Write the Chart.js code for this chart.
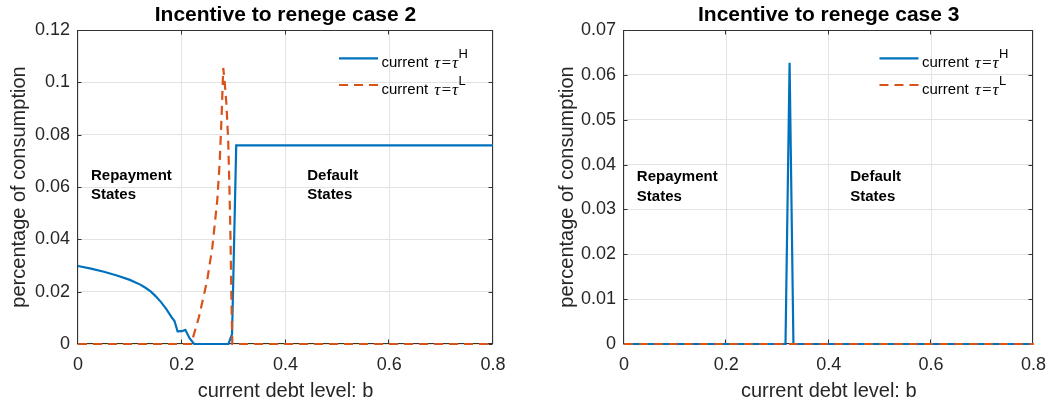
<!DOCTYPE html>
<html>
<head>
<meta charset="utf-8">
<script src="https://cdn.jsdelivr.net/npm/chart.js@4/dist/chart.umd.min.js"></script>
<style>
  html, body { margin: 0; padding: 0; background: #fff; }
  #wrap { position: relative; width: 1056px; height: 407px; }
  canvas { position: absolute; top: 0; }
</style>
</head>
<body>
<div id="wrap">
  <canvas id="case2" width="528" height="407" style="left:0"></canvas>
  <canvas id="case3" width="528" height="407" style="left:528px"></canvas>
</div>
<script>
// tick values
const debtTicks = [0, 0.2, 0.4, 0.6, 0.8];
const case2Ticks = [0, 0.02, 0.04, 0.06, 0.08, 0.1, 0.12];
const case3Ticks = [0, 0.01, 0.02, 0.03, 0.04, 0.05, 0.06, 0.07];

// case 2, current tau = tau^H
const case2HighB   = [0, 0.025, 0.05, 0.075, 0.1, 0.12, 0.13, 0.14, 0.15, 0.16, 0.17, 0.18, 0.186, 0.192, 0.2, 0.207, 0.215, 0.224, 0.29, 0.297, 0.305, 0.8];
const case2HighVal = [0.0298, 0.0288, 0.0276, 0.0262, 0.0245, 0.0227, 0.0215, 0.0201, 0.0182, 0.016, 0.0134, 0.0104, 0.0088, 0.0048, 0.0049, 0.0054, 0.0022, 0, 0, 0.0038, 0.0759, 0.0759];
// case 2, current tau = tau^L
const case2LowB   = [0, 0.218, 0.233, 0.249, 0.259, 0.2685, 0.273, 0.277, 0.28, 0.283, 0.286, 0.2895, 0.292, 0.294, 0.296, 0.2975, 0.8];
const case2LowVal = [0, 0, 0.0102, 0.0243, 0.037, 0.055, 0.069, 0.088, 0.1055, 0.0995, 0.092, 0.078, 0.059, 0.04, 0.014, 0, 0];

// case 3
const case3HighB   = [0, 0.3155, 0.3235, 0.331, 0.8];
const case3HighVal = [0, 0, 0.0627, 0, 0];
const case3LowB   = [0, 0.8];
const case3LowVal = [0, 0];

const seriesNames = ['H', 'L'];
const noteText = [['Repayment', 'States'], ['Default', 'States']];
const noteB = [0.025, 0.442];
const case2NoteY = 0.0627;
const case3NoteY = 0.0363;

const BLUE = '#0072BD';
const ORANGE = '#D95319';
const SANS = '"Liberation Sans", Arial, Helvetica, sans-serif';

function toPoints(xs, ys) {
    return xs.map((x, i) => ({ x: x, y: ys[i] }));
}

function fmt(v) {
    return String(Number(v.toFixed(4)));
}

// box, inward ticks, title, legend and the two text notes
const decorPlugin = {
    id: 'decor',
    beforeDatasetsDraw(chart) {
        const { ctx, chartArea: a, scales } = chart;
        const l = Math.round(a.left) - 0.5, r = Math.round(a.right) - 0.5;
        const t = Math.round(a.top) + 0.5, b = Math.round(a.bottom) - 0.5;
        ctx.save();
        ctx.strokeStyle = '#333333';
        ctx.lineWidth = 1;
        ctx.strokeRect(l, t, r - l, b - t);
        ctx.beginPath();
        debtTicks.forEach(v => {
            const px = Math.round(scales.x.getPixelForValue(v)) - 0.5;
            ctx.moveTo(px, b); ctx.lineTo(px, b - 4);
            ctx.moveTo(px, t); ctx.lineTo(px, t + 4);
        });
        chart.options.yTickList.forEach(v => {
            const py = Math.round(scales.y.getPixelForValue(v)) + 0.5;
            ctx.moveTo(l, py); ctx.lineTo(l + 4, py);
            ctx.moveTo(r, py); ctx.lineTo(r - 4, py);
        });
        ctx.stroke();
        ctx.restore();
    },
    afterDraw(chart) {
        const { ctx, chartArea: a, scales } = chart;
        ctx.save();
        // title
        ctx.fillStyle = '#000';
        ctx.font = 'bold 21px ' + SANS;
        ctx.textAlign = 'center';
        ctx.textBaseline = 'alphabetic';
        ctx.fillText(chart.options.chartTitle, (a.left + a.right) / 2, 21);

        // notes
        ctx.textAlign = 'left';
        ctx.font = 'bold 15px ' + SANS;
        noteText.forEach((lines, i) => {
            const px = scales.x.getPixelForValue(noteB[i]);
            const py = scales.y.getPixelForValue(chart.options.noteY);
            lines.forEach((s, j) => ctx.fillText(s, px, py + j * 19.5));
        });

        // legend
        const sets = chart.data.datasets;
        seriesNames.forEach((sup, i) => {
            const ds = sets[i];
            const y = a.top + 28.3 + i * 26.7;
            const x0 = a.right - 154;
            ctx.save();
            ctx.strokeStyle = ds.borderColor;
            ctx.lineWidth = ds.borderWidth;
            ctx.setLineDash(ds.borderDash || []);
            ctx.beginPath();
            ctx.moveTo(x0, y);
            ctx.lineTo(x0 + 39, y);
            ctx.stroke();
            ctx.restore();

            let x = x0 + 42.5;
            const ty = y + 4.5;
            ctx.fillStyle = '#000';
            ctx.textBaseline = 'middle';
            ctx.font = '15px ' + SANS;
            ctx.fillText('current', x, ty);
            x += ctx.measureText('current ').width + 2;
            ctx.font = 'italic 17px "Liberation Serif", "Times New Roman", serif';
            ctx.fillText('\u03c4=\u03c4', x, ty + 1);
            x += ctx.measureText('\u03c4=\u03c4').width + 0.5;
            ctx.font = '13px ' + SANS;
            ctx.fillText(sup, x, ty - 8);
        });
        ctx.restore();
    }
};

function makeChart(id, title, highB, highVal, lowB, lowVal, yTicks, noteY, yWidth, rightPad, yTitlePad) {
    const ctx = document.getElementById(id).getContext('2d');
    return new Chart(ctx, {
        type: 'line',
        data: {
            datasets: [
                {
                    label: 'current tau=tau^H',
                    data: toPoints(highB, highVal),
                    borderColor: BLUE,
                    borderWidth: 2.2,
                    pointRadius: 0,
                    tension: 0,
                    clip: 6,
                    order: 1
                },
                {
                    label: 'current tau=tau^L',
                    data: toPoints(lowB, lowVal),
                    borderColor: ORANGE,
                    borderWidth: 2.2,
                    borderDash: [9, 6],
                    pointRadius: 0,
                    tension: 0,
                    clip: 6,
                    order: 0
                }
            ]
        },
        plugins: [decorPlugin],
        options: {
            responsive: false,
            animation: false,
            devicePixelRatio: 1,
            chartTitle: title,
            noteY: noteY,
            yTickList: yTicks,
            layout: { padding: { top: 30, right: rightPad, bottom: 0, left: 0 } },
            plugins: {
                legend: { display: false },
                title: { display: false },
                tooltip: { enabled: false }
            },
            scales: {
                x: {
                    type: 'linear',
                    min: 0,
                    max: 0.8,
                    afterBuildTicks: axis => { axis.ticks = debtTicks.map(v => ({ value: v })); },
                    afterFit: axis => { axis.height = 63; },
                    grid: { color: '#e3e3e3', drawTicks: false },
                    border: { display: false },
                    ticks: {
                        color: '#262626',
                        font: { family: SANS, size: 18 },
                        padding: 10,
                        maxRotation: 0,
                        callback: v => fmt(v)
                    },
                    title: {
                        display: true,
                        text: 'current debt level: b',
                        color: '#262626',
                        font: { family: SANS, size: 20 },
                        padding: { top: 0, bottom: 4 }
                    }
                },
                y: {
                    type: 'linear',
                    min: 0,
                    max: yTicks[yTicks.length - 1],
                    afterBuildTicks: axis => { axis.ticks = yTicks.map(v => ({ value: v })); },
                    afterFit: axis => { axis.width = yWidth; },
                    grid: { color: '#e3e3e3', drawTicks: false },
                    border: { display: false },
                    ticks: {
                        color: '#262626',
                        font: { family: SANS, size: 18 },
                        padding: 8,
                        callback: v => fmt(v)
                    },
                    title: {
                        display: true,
                        text: 'percentage of consumption',
                        color: '#262626',
                        font: { family: SANS, size: 20 },
                        padding: { top: yTitlePad, bottom: 0 }
                    }
                }
            }
        }
    });
}

makeChart('case2', 'Incentive to renege case 2', case2HighB, case2HighVal, case2LowB, case2LowVal, case2Ticks, case2NoteY, 78, 35, 7);
makeChart('case3', 'Incentive to renege case 3', case3HighB, case3HighVal, case3LowB, case3LowVal, case3Ticks, case3NoteY, 96, 16, 27);
</script>
</body>
</html>
